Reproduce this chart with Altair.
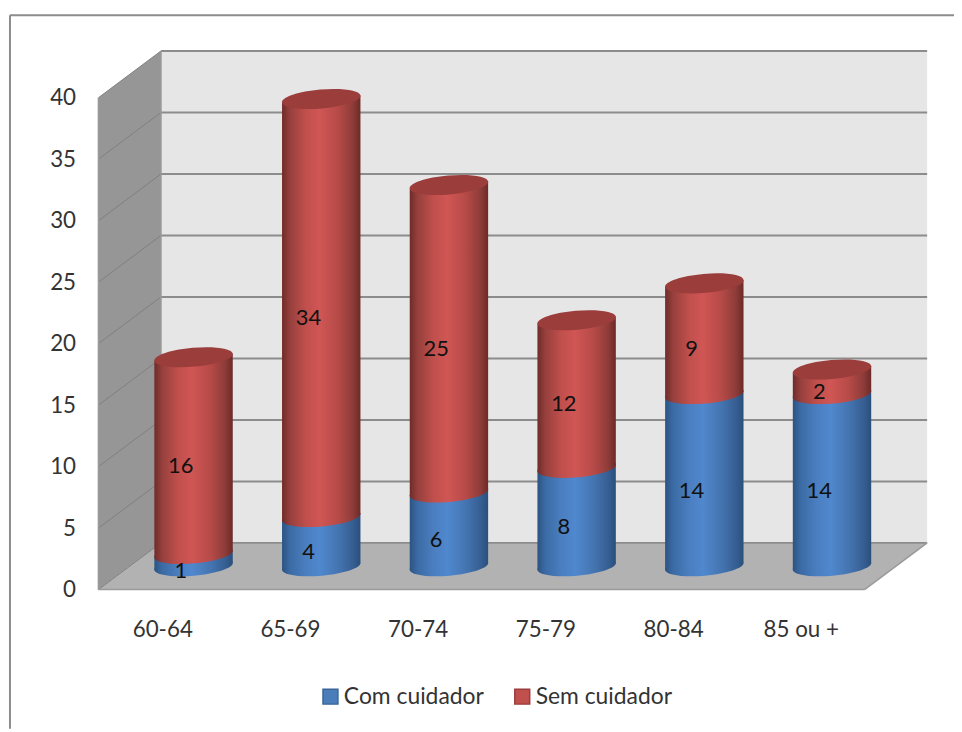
import json
import altair as alt
import pandas as pd

categories = ["60-64", "65-69", "70-74", "75-79", "80-84", "85 ou +"]
com_cuidador = [1, 4, 6, 8, 14, 14]
sem_cuidador = [16, 34, 25, 12, 9, 2]
y_ticks = [0, 5, 10, 15, 20, 25, 30, 35, 40]

FONT = "Lato"
DEPTH_X = 0.49      # depth of the 3D box, in category units
DEPTH_Y = 3.8       # depth of the 3D box, in value units
BASE = 1.9          # cylinders stand half way into the box
HALF = 0.307        # half a cylinder's width
TILT = 0.28         # rise of the ellipse's right end over its centre
SKEW = 0.1          # labels sit left of the cylinder's axis
LEFT, RIGHT = -0.5, 5.5

x_scale = alt.Scale(domain=[-1.1926, 6.2004], nice=False, zero=False)
y_scale = alt.Scale(domain=[-11.313, 46.707], nice=False, zero=False)

label_expr = f"{json.dumps(categories)}[datum.value]"
x_axis = alt.Axis(values=list(range(len(categories))), labelExpr=label_expr, title=None, domain=False,
                  ticks=False, grid=False, labelFont=FONT, labelFontSize=22.5, labelColor="#333333",
                  labelPadding=0, offset=-111, labelBaseline="top", labelAlign="center", labelFlush=False,
                  labelOverlap=False)
y_axis = alt.Axis(values=y_ticks, title=None, domain=False, ticks=False, grid=False, labelFont=FONT,
                  labelFontSize=22.5, labelColor="#333333", labelPadding=0, offset=-66, labelFlush=False,
                  labelOverlap=False)


def X(field="x"):
    return alt.X(f"{field}:Q", scale=x_scale, axis=x_axis)


def Y(field="y"):
    return alt.Y(f"{field}:Q", scale=y_scale, axis=y_axis)


def grad(stops):
    return alt.Gradient(
        gradient="linear", x1=0, x2=1, y1=0, y2=0,
        stops=[alt.GradientStop(offset=o, color=c) for o, c in stops],
    )


RED = grad([(0, "#6f2b29"), (0.10, "#96403d"), (0.30, "#c04f4c"), (0.48, "#d05654"),
            (0.72, "#b54a47"), (0.90, "#8e3c39"), (1, "#6d2a28")])
BLUE = grad([(0, "#2c5382"), (0.10, "#3b6ba4"), (0.30, "#4a7ec0"), (0.48, "#5088ce"),
             (0.72, "#4474b0"), (0.90, "#365f93"), (1, "#2a4f7c")])

# ---- box ------------------------------------------------------------------
back = alt.Chart(pd.DataFrame([{"x": LEFT + DEPTH_X, "x2": RIGHT + DEPTH_X, "y": DEPTH_Y, "y2": 40 + DEPTH_Y}])).mark_rect(
    color="#e6e6e6"
).encode(x=X(), x2="x2:Q", y=Y(), y2="y2:Q")

side = alt.Chart(pd.DataFrame([
    {"x": LEFT, "y": 0, "y2": 40},
    {"x": LEFT + DEPTH_X, "y": DEPTH_Y, "y2": 40 + DEPTH_Y},
])).mark_area(color="#969696").encode(x=X(), y=Y(), y2="y2:Q")

floor = alt.Chart(pd.DataFrame([
    {"y": 0, "x": LEFT, "x2": RIGHT},
    {"y": DEPTH_Y, "x": LEFT + DEPTH_X, "x2": RIGHT + DEPTH_X},
])).mark_area(color="#b2b2b2", orient="horizontal").encode(y=Y(), x=X(), x2="x2:Q")

grid_rows, side_rows = [], []
for t in y_ticks:
    side_rows += [{"t": t, "x": LEFT, "y": t}, {"t": t, "x": LEFT + DEPTH_X, "y": t + DEPTH_Y}]
    grid_rows += [{"t": t, "x": LEFT + DEPTH_X, "y": t + DEPTH_Y}, {"t": t, "x": RIGHT + DEPTH_X, "y": t + DEPTH_Y}]

side_lines = alt.Chart(pd.DataFrame(side_rows)).mark_line(color="#7f7f7f", strokeWidth=1).encode(
    x=X(), y=Y(), detail="t:N")
grid_lines = alt.Chart(pd.DataFrame(grid_rows)).mark_line(color="#8c8c8c", strokeWidth=2).encode(
    x=X(), y=Y(), detail="t:N")

front_rows = [
    {"k": "front", "x": LEFT, "y": 0}, {"k": "front", "x": RIGHT, "y": 0},
    {"k": "corner", "x": RIGHT, "y": 0}, {"k": "corner", "x": RIGHT + DEPTH_X, "y": DEPTH_Y},
    {"k": "edge", "x": LEFT, "y": 0}, {"k": "edge", "x": LEFT, "y": 40},
    {"k": "back", "x": LEFT + DEPTH_X, "y": DEPTH_Y}, {"k": "back", "x": LEFT + DEPTH_X, "y": 40 + DEPTH_Y},
]
front_lines = alt.Chart(pd.DataFrame(front_rows)).mark_line(color="#9a9a9a", strokeWidth=1.5).encode(
    x=X(), y=Y(), detail="k:N")

# ---- cylinders ------------------------------------------------------------
body_rows, ell_rows, text_rows = [], [], []
for i, (a, b) in enumerate(zip(com_cuidador, sem_cuidador)):
    c = i + DEPTH_X / 2
    for side_x, t in ((c - HALF, -TILT), (c + HALF, TILT)):
        body_rows.append({"i": i, "s": "com", "x": side_x, "y": BASE + t, "y2": BASE + a + t})
        body_rows.append({"i": i, "s": "sem", "x": side_x, "y": BASE + a + t, "y2": BASE + a + b + t})
    ell_rows += [
        {"i": i, "part": "com_base", "x": c, "y": BASE},
        {"i": i, "part": "sem_base", "x": c, "y": BASE + a},
        {"i": i, "part": "top", "x": c, "y": BASE + a + b},
    ]
    text_rows += [
        {"x": c - SKEW, "y": BASE + a / 2 - 0.85, "t": str(a)},
        {"x": c - SKEW, "y": BASE + a + b / 2 - 0.85, "t": str(b)},
    ]
bodies = pd.DataFrame(body_rows)
ells = pd.DataFrame(ell_rows)

ELLIPSE = "M-1,0 A1,0.24 0 1,1 1,0 A1,0.24 0 1,1 -1,0 Z"


def ellipse(part, fill):
    return alt.Chart(ells[ells.part == part]).mark_point(
        shape=ELLIPSE, size=6300, angle=355, filled=True, fill=fill, stroke=None, opacity=1
    ).encode(x=X(), y=Y())


def body(s, fill):
    return alt.Chart(bodies[bodies.s == s]).mark_area(fill=fill).encode(
        x=X(), y=Y(), y2="y2:Q", detail="i:N")


labels = alt.Chart(pd.DataFrame(text_rows)).mark_text(
    font=FONT, fontSize=22, color="#111111", align="center", baseline="middle"
).encode(x=X(), y=Y(), text="t:N")

# ---- legend ---------------------------------------------------------------
legend_spec = alt.Legend(title=None, orient="none", direction="horizontal", legendX=311, legendY=674,
                         symbolType="square", symbolSize=225, symbolStrokeWidth=1.5,
                         labelFont=FONT, labelFontSize=23, labelColor="#333333", padding=0,
                         labelOffset=2, columnPadding=27, symbolOpacity=1)
legend = alt.Chart(pd.DataFrame([
    {"x": 0, "y": 0, "s": "Com cuidador"},
    {"x": 0, "y": 0, "s": "Sem cuidador"},
])).mark_square(size=0, opacity=1).encode(
    x=X(), y=Y(),
    fill=alt.Fill("s:N", scale=alt.Scale(domain=["Com cuidador", "Sem cuidador"], range=["#4a7ebb", "#c0504d"]),
                  legend=legend_spec),
    stroke=alt.Stroke("s:N", scale=alt.Scale(domain=["Com cuidador", "Sem cuidador"], range=["#3a6596", "#9a3d3b"]),
                      legend=legend_spec),
)

# ---- frame ----------------------------------------------------------------
frame_left = alt.Chart(pd.DataFrame([{"k": 0}])).mark_rule(color="#8c8c8c", strokeWidth=2).encode(
    x=alt.value(0), y=alt.value(0), y2=alt.value(718))
frame_top = alt.Chart(pd.DataFrame([{"k": 0}])).mark_rule(color="#8c8c8c", strokeWidth=2).encode(
    x=alt.value(0), x2=alt.value(950), y=alt.value(0))

chart = alt.layer(
    back, side, floor, side_lines, grid_lines, front_lines,
    ellipse("com_base", BLUE), body("com", BLUE),
    ellipse("sem_base", RED), body("sem", RED),
    ellipse("top", "#9a3d3b"),
    labels, legend, frame_left, frame_top,
).properties(
    width=950, height=718,
    autosize=alt.AutoSizeParams(type="none"),
    padding={"left": 2, "top": 5, "right": 0, "bottom": 0},
    background="white",
).configure_view(stroke=None)

chart.save("out.html", embed_options={"renderer": "svg", "actions": False})
